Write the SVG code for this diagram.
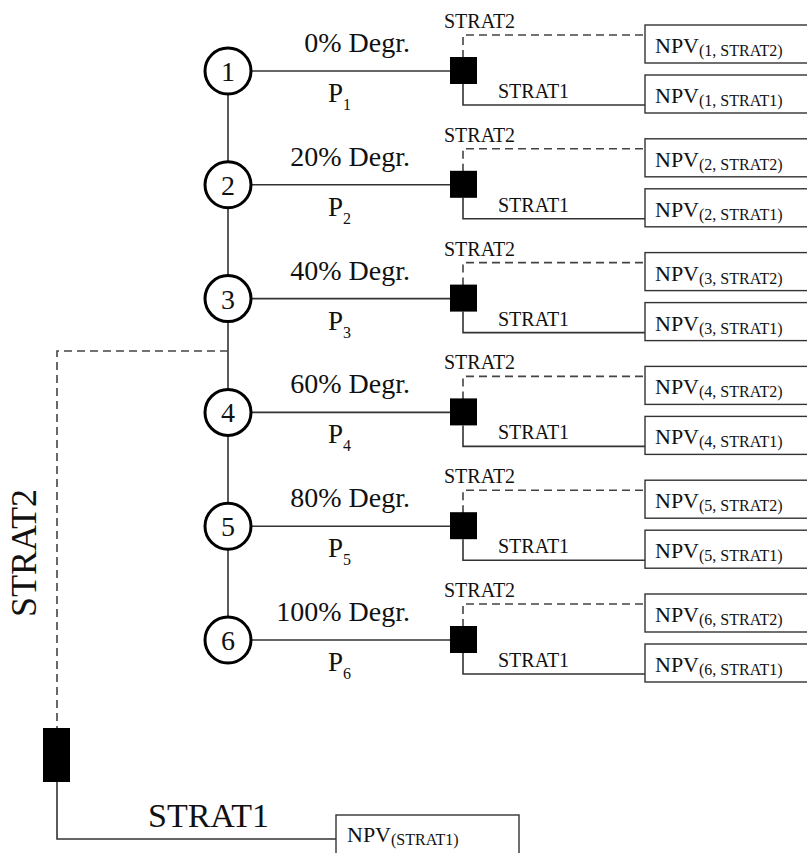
<svg xmlns="http://www.w3.org/2000/svg" width="807" height="853" viewBox="0 0 807 853">
<style>
text{font-family:"Liberation Serif","Tinos","Times New Roman","DejaVu Serif","Noto Serif",serif;fill:#111}
.ln{fill:none;stroke:#333;stroke-width:1.6}
.dash{fill:none;stroke:#444;stroke-width:1.6;stroke-dasharray:8 5}
.circ{fill:#fff;stroke:#000;stroke-width:3}
.sq{fill:#000}
.box{fill:#fff;stroke:#333;stroke-width:1.4}
.num{font-size:28px;text-anchor:middle}
.deg{font-size:28px;text-anchor:end}
.p{font-size:27px}
.sm{font-size:20px}
.npv{font-size:22px}
.sub{font-size:16px}
</style>
<defs>
<g id="rowLines">
<line class="ln" x1="251" y1="0" x2="450" y2="0"/>
<polyline class="dash" points="463,-13 463,-36 645,-36"/>
<polyline class="ln" points="463,13 463,34 645,34"/>
</g>
</defs>
<g id="connectors">
<line class="ln" x1="228" y1="71" x2="228" y2="640"/>
<polyline class="dash" points="228,351 57,351 57,728"/>
<polyline class="ln" points="57,782 57,839 336,839"/>
<use href="#rowLines" transform="translate(0,71)"/>
<use href="#rowLines" transform="translate(0,184.8)"/>
<use href="#rowLines" transform="translate(0,298.6)"/>
<use href="#rowLines" transform="translate(0,412.4)"/>
<use href="#rowLines" transform="translate(0,526.2)"/>
<use href="#rowLines" transform="translate(0,640)"/>
</g>
<g id="row1" transform="translate(0,71)">
<circle class="circ" cx="228" cy="0" r="23"/><text class="num" x="228" y="10">1</text>
<text class="deg" x="410" y="-19">0% Degr.</text>
<text class="p" x="328" y="31">P<tspan class="sub" font-size="18" dy="8">1</tspan></text>
<rect class="sq" x="450" y="-14" width="27" height="27"/>
<text class="sm" x="444" y="-43">STRAT2</text><text class="sm" x="498" y="27">STRAT1</text>
<rect class="box" x="645" y="-46" width="170" height="38"/><text class="npv" x="655" y="-18">NPV<tspan class="sub" dy="3">(1, STRAT2)</tspan></text>
<rect class="box" x="645" y="4" width="170" height="38"/><text class="npv" x="655" y="32">NPV<tspan class="sub" dy="3">(1, STRAT1)</tspan></text>
</g>
<g id="row2" transform="translate(0,184.8)">
<circle class="circ" cx="228" cy="0" r="23"/><text class="num" x="228" y="10">2</text>
<text class="deg" x="410" y="-19">20% Degr.</text>
<text class="p" x="328" y="31">P<tspan class="sub" font-size="18" dy="8">2</tspan></text>
<rect class="sq" x="450" y="-14" width="27" height="27"/>
<text class="sm" x="444" y="-43">STRAT2</text><text class="sm" x="498" y="27">STRAT1</text>
<rect class="box" x="645" y="-46" width="170" height="38"/><text class="npv" x="655" y="-18">NPV<tspan class="sub" dy="3">(2, STRAT2)</tspan></text>
<rect class="box" x="645" y="4" width="170" height="38"/><text class="npv" x="655" y="32">NPV<tspan class="sub" dy="3">(2, STRAT1)</tspan></text>
</g>
<g id="row3" transform="translate(0,298.6)">
<circle class="circ" cx="228" cy="0" r="23"/><text class="num" x="228" y="10">3</text>
<text class="deg" x="410" y="-19">40% Degr.</text>
<text class="p" x="328" y="31">P<tspan class="sub" font-size="18" dy="8">3</tspan></text>
<rect class="sq" x="450" y="-14" width="27" height="27"/>
<text class="sm" x="444" y="-43">STRAT2</text><text class="sm" x="498" y="27">STRAT1</text>
<rect class="box" x="645" y="-46" width="170" height="38"/><text class="npv" x="655" y="-18">NPV<tspan class="sub" dy="3">(3, STRAT2)</tspan></text>
<rect class="box" x="645" y="4" width="170" height="38"/><text class="npv" x="655" y="32">NPV<tspan class="sub" dy="3">(3, STRAT1)</tspan></text>
</g>
<g id="row4" transform="translate(0,412.4)">
<circle class="circ" cx="228" cy="0" r="23"/><text class="num" x="228" y="10">4</text>
<text class="deg" x="410" y="-19">60% Degr.</text>
<text class="p" x="328" y="31">P<tspan class="sub" font-size="18" dy="8">4</tspan></text>
<rect class="sq" x="450" y="-14" width="27" height="27"/>
<text class="sm" x="444" y="-43">STRAT2</text><text class="sm" x="498" y="27">STRAT1</text>
<rect class="box" x="645" y="-46" width="170" height="38"/><text class="npv" x="655" y="-18">NPV<tspan class="sub" dy="3">(4, STRAT2)</tspan></text>
<rect class="box" x="645" y="4" width="170" height="38"/><text class="npv" x="655" y="32">NPV<tspan class="sub" dy="3">(4, STRAT1)</tspan></text>
</g>
<g id="row5" transform="translate(0,526.2)">
<circle class="circ" cx="228" cy="0" r="23"/><text class="num" x="228" y="10">5</text>
<text class="deg" x="410" y="-19">80% Degr.</text>
<text class="p" x="328" y="31">P<tspan class="sub" font-size="18" dy="8">5</tspan></text>
<rect class="sq" x="450" y="-14" width="27" height="27"/>
<text class="sm" x="444" y="-43">STRAT2</text><text class="sm" x="498" y="27">STRAT1</text>
<rect class="box" x="645" y="-46" width="170" height="38"/><text class="npv" x="655" y="-18">NPV<tspan class="sub" dy="3">(5, STRAT2)</tspan></text>
<rect class="box" x="645" y="4" width="170" height="38"/><text class="npv" x="655" y="32">NPV<tspan class="sub" dy="3">(5, STRAT1)</tspan></text>
</g>
<g id="row6" transform="translate(0,640)">
<circle class="circ" cx="228" cy="0" r="23"/><text class="num" x="228" y="10">6</text>
<text class="deg" x="410" y="-19">100% Degr.</text>
<text class="p" x="328" y="31">P<tspan class="sub" font-size="18" dy="8">6</tspan></text>
<rect class="sq" x="450" y="-14" width="27" height="27"/>
<text class="sm" x="444" y="-43">STRAT2</text><text class="sm" x="498" y="27">STRAT1</text>
<rect class="box" x="645" y="-46" width="170" height="38"/><text class="npv" x="655" y="-18">NPV<tspan class="sub" dy="3">(6, STRAT2)</tspan></text>
<rect class="box" x="645" y="4" width="170" height="38"/><text class="npv" x="655" y="32">NPV<tspan class="sub" dy="3">(6, STRAT1)</tspan></text>
</g>
<g id="strat2-decision">
<rect class="sq" x="43" y="728" width="27" height="54"/>
<text font-size="36" x="0" y="0" transform="translate(36,617) rotate(-90)">STRAT2</text>
</g>
<g id="strat1-outcome">
<text font-size="34" x="148" y="827">STRAT1</text>
<rect class="box" x="336" y="815" width="183" height="50"/>
<text class="npv" x="347" y="842">NPV<tspan class="sub" dy="3">(STRAT1)</tspan></text>
</g>
</svg>
